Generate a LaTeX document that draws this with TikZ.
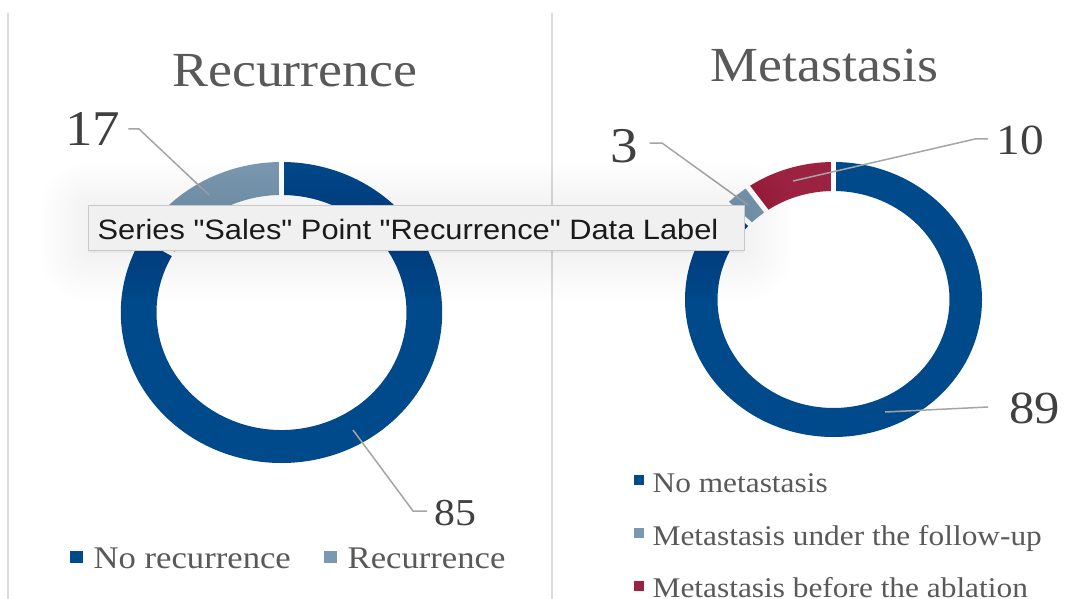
\documentclass[tikz,border=0pt]{standalone}
\usepackage{fontspec}
\setmainfont[FakeStretch=1.1]{Liberation Serif}
\newfontfamily\tipfont[FakeStretch=1.1]{Liberation Sans}
\usetikzlibrary{calc}
\definecolor{dkblue}{RGB}{0,73,138}
\definecolor{ltblue}{RGB}{122,153,176}
\definecolor{dkred}{RGB}{155,35,65}
\definecolor{titlegray}{RGB}{89,89,89}
\definecolor{valgray}{RGB}{64,64,64}
\definecolor{leadgray}{RGB}{165,165,165}
\definecolor{sepgray}{RGB}{217,217,217}
\definecolor{tipfill}{RGB}{240,240,240}
\definecolor{tipborder}{RGB}{200,200,200}
\newcommand{\donutpart}[9]{%
  \fill[#1] ([shift={(#2,#3)}]#8:#4 and #5) arc[start angle=#8,end angle=#9,x radius=#4,y radius=#5]
    -- ([shift={(#2,#3)}]#9:#6 and #7) arc[start angle=#9,end angle=#8,x radius=#6,y radius=#7] -- cycle;}
\newcommand{\donutgap}[7]{%
  \draw[white,line width=5] ([shift={(#1,#2)}]#7:#5-6 and #6-6) -- ([shift={(#1,#2)}]#7:#3+6 and #4+6);}
\begin{document}
\begin{tikzpicture}[x=1pt,y=-1pt,
  titletxt/.style={anchor=base west,inner sep=0,text=titlegray,font=\fontsize{49}{55}\selectfont},
  valtxt/.style={anchor=base west,inner sep=0,text=valgray},
  legtxt/.style={anchor=base west,inner sep=0,text=titlegray},
  leader/.style={draw=leadgray,line width=1.5},
  sepline/.style={draw=sepgray,line width=2}]
\useasboundingbox (0,0) rectangle (1089,599);
\clip (0,0) rectangle (1089,599);
\fill[white] (0,0) rectangle (1089,599);
% separators
\draw[sepline] (8,13) -- (8,599);
\draw[sepline] (551.5,13) -- (551.5,599);
% left donut
\donutpart{dkblue}{281.5}{312.5}{160.7}{150.5}{125}{117.5}{-90}{210}
\donutpart{ltblue}{281.5}{312.5}{160.7}{150.5}{125}{117.5}{210}{270}
\donutgap{281.5}{312.5}{160.7}{150.5}{125}{117.5}{-90}
\donutgap{281.5}{312.5}{160.7}{150.5}{125}{117.5}{210}
% right donut
\donutpart{dkblue}{833.5}{299.5}{148.5}{137.5}{116}{108.5}{-90}{224.1}
\donutpart{ltblue}{833.5}{299.5}{148.5}{137.5}{116}{108.5}{224.1}{234.7}
\donutpart{dkred}{833.5}{299.5}{148.5}{137.5}{116}{108.5}{234.7}{270}
\donutgap{833.5}{299.5}{148.5}{137.5}{116}{108.5}{-90}
\donutgap{833.5}{299.5}{148.5}{137.5}{116}{108.5}{224.1}
\donutgap{833.5}{299.5}{148.5}{137.5}{116}{108.5}{234.7}
% titles
\node[titletxt] (t1) at (172,87) {Recurrence};
\node[titletxt] (t2) at (710.4,82) {Metastasis};
% value labels
\node[valtxt,font=\fontsize{50}{56}\selectfont] (v17) at (64.9,146) {17};
\node[valtxt,font=\fontsize{50}{56}\selectfont] (v3) at (610.7,162) {3};
\node[valtxt,font=\fontsize{43}{50}\selectfont] (v10) at (996.7,154) {10};
\node[valtxt,font=\fontsize{46}{52}\selectfont] (v89) at (1009.2,423) {89};
\node[valtxt,font=\fontsize{38}{44}\selectfont] (v85) at (434.7,525) {85};
% leader lines
\coordinate (p17) at (209,195);
\coordinate (k17) at (139,129);
\coordinate (p3) at (748,205);
\coordinate (k3) at (662,143);
\coordinate (p10) at (793,181);
\coordinate (k10) at (975,139);
\coordinate (p89) at (885,412);
\coordinate (p85) at (353,430);
\coordinate (k85) at (413,511);
\draw[leader] (p17) -- (k17) -- ($(v17.base east)+(8,-17)$);
\draw[leader] (p3) -- (k3) -- ($(v3.base east)+(11,-19)$);
\draw[leader] (p10) -- (k10) -- ($(v10.base west)+(-8.7,-15)$);
\draw[leader] (p89) -- ($(v89.base west)+(-21,-16)$);
\draw[leader] (p85) -- (k85) -- ($(v85.base west)+(-7.7,-14)$);
% left legend
\fill[dkblue] (70,551) rectangle (83,563);
\node[legtxt,font=\fontsize{31.5}{36}\selectfont] (lg1) at (93.5,568) {No recurrence};
\fill[ltblue] (324,551) rectangle (337,563);
\node[legtxt,font=\fontsize{31.5}{36}\selectfont] (lg2) at (347.5,568) {Recurrence};
% right legend
\fill[dkblue] (634,475) rectangle (644,485);
\node[legtxt,font=\fontsize{28.5}{34}\selectfont] (lg3) at (652.5,492) {No metastasis};
\fill[ltblue] (634,528) rectangle (644,538);
\node[legtxt,font=\fontsize{28.5}{34}\selectfont] (lg4) at (652.5,545) {Metastasis under the follow-up};
\fill[dkred] (634,581) rectangle (644,591);
\node[legtxt,font=\fontsize{28.5}{34}\selectfont] (lg5) at (652.5,597) {Metastasis before the ablation};
% tooltip glow
\foreach \i in {1,...,12}{
  \fill[black,opacity=0.005,rounded corners={4*\i}] (88-4*\i,205+3-3.8*\i) rectangle (744+4*\i,250+3+4*\i);
}
\fill[black,opacity=0.04] (88,250) rectangle (744,253);
% tooltip
\node[draw=tipborder,fill=tipfill,line width=1,inner sep=0,minimum width=656,minimum height=45,anchor=north west] (tip) at (88,205) {};
\node[anchor=base west,inner sep=0,text={rgb,255:red,26;green,26;blue,26},font=\tipfont\fontsize{28}{32}\selectfont] (tiptxt) at (97.5,239) {Series "Sales" Point "Recurrence" Data Label};
\end{tikzpicture}
\end{document}
